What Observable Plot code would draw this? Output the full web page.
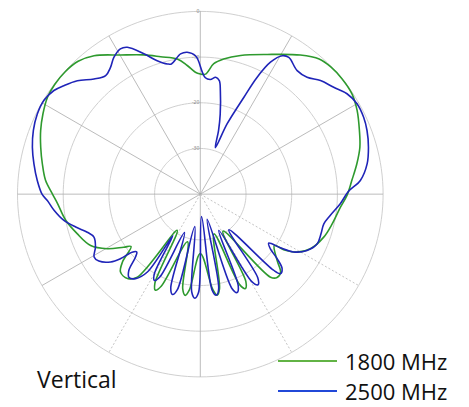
<!DOCTYPE html>
<html>
<head>
<meta charset="utf-8">
<script src="https://cdn.jsdelivr.net/npm/d3@7"></script>
<script src="https://cdn.jsdelivr.net/npm/@observablehq/plot@0.6"></script>
<style>
  body { margin: 0; background: #fff; }
  #wrap { position: relative; width: 469px; height: 407px; overflow: hidden; font-family: "Open Sans", sans-serif; }
  #chart { position: absolute; left: 0; top: 0; }
  .lab { position: absolute; font-size: 22px; line-height: 18px; color: #111; white-space: nowrap; }
  .key { position: absolute; height: 0; border-top: 2.5px solid; }
</style>
</head>
<body>
<div id="wrap">
  <div id="chart"></div>
  <div class="lab" id="title" style="left:37px; top:370px; font-size:23px;">Vertical</div>
  <div class="key" id="k0" style="left:278px; top:360px; width:59px;"></div>
  <div class="lab" id="l0" style="left:345px; top:352px;"></div>
  <div class="key" id="k1" style="left:278px; top:390px; width:59px;"></div>
  <div class="lab" id="l1" style="left:345px; top:382px;"></div>
</div>
<script>
// ---- data (angle in degrees clockwise from zenith, gain in dB) ----
const seriesNames = ["1800 MHz", "2500 MHz"];
const seriesColors = ["#2e9a2e", "#1f24b8"];
const legendColors = ["#62b345", "#2148d8"];
const chartTitle = "Vertical";

const angles1800 = [0,2.5,5.9,9.8,16.2,25.6,35.7,41.3,45.7,50.8,56.5,61.9,68.2,73.6,79,84.8,90.5,95.3,102.6,109.2,116.4,120.9,123.7,124.7,130.8,134.2,137.4,139.8,148.5,152.5,154.5,156.5,161,168.5,170.5,172.5,180,186.5,188.5,190.5,195,203,205,207,212.5,217.2,220.8,225.7,228.9,232.9,235.3,239.6,244.9,252.2,259,266.2,270.2,275.1,280.9,286.4,291.7,297,302.4,307,312.2,317.4,322.5,330.2,337.9,343.9,350.3,354.2,357.7,360];
const db1800 = [-13.7,-13.7,-11.3,-10,-8.4,-6.1,-2.5,-0.6,-0.1,0,-0.2,-1.1,-2.5,-3.6,-5.1,-6.7,-7.9,-9.2,-10.4,-11.4,-13.1,-15.3,-18.1,-20.3,-17.8,-15.5,-15.2,-16.2,-30.5,-18.4,-17.1,-18.4,-30.8,-18.9,-17.6,-18.9,-27,-18.9,-17.6,-18.9,-29.2,-18.1,-16.8,-18.1,-30.6,-17.2,-15.6,-15.6,-17.4,-21,-19.6,-16.4,-13.5,-11.7,-10,-8.7,-7.6,-6,-4.8,-3.6,-2.4,-1.35,-0.4,-0.1,-0.1,-0.5,-1.8,-4.9,-7.1,-8.7,-10,-11.7,-13.3,-13.7];

const angles2500 = [0,2.5,5,7.5,9.5,11,14,16,17.9,20.9,24.2,25.9,28,30.6,32.9,38.1,42.4,46.6,51.3,55.6,60.1,64.8,69.1,74.4,79.7,85.1,89,93.9,99.3,103.5,108.1,113,117.8,121.8,123.8,125.6,127.9,130,132.3,134.8,136.1,141.3,145.5,147.5,149.5,153,157.5,159.5,161.5,164.7,169,171,173,176.9,181,183,185,189.7,193.5,195.5,197.5,202.3,206,208,210,213.5,214.2,217.5,220.5,223.1,225.8,227.7,229.6,231,232.9,236.6,239.4,243.2,248,251.4,255.2,259.1,263.7,267.6,269.9,274.8,280.3,285.6,290.9,296.2,301,305.3,308.5,312.7,317.3,321.4,324.7,327.7,331.2,333.6,338.1,342.1,345.8,347.5,352,354.7,358,360];
const db2500 = [-12,-14.5,-14.8,-14.2,-14.8,-17,-22,-25.5,-29.3,-23.5,-16.8,-11.6,-7.3,-4.8,-4.35,-5.65,-5.35,-3.8,-2.6,-1.1,-0.4,-0.5,-0.95,-1.8,-2.9,-4.85,-7.6,-9.3,-11.2,-12.2,-12.2,-12.2,-13.6,-16,-18.9,-21.6,-20.6,-18.1,-15.8,-15.3,-16.9,-30,-17.8,-16.5,-17.8,-31.1,-18.3,-17,-18.3,-34.3,-18.9,-17.6,-18.9,-35.1,-18.5,-17.2,-18.5,-32.8,-18.5,-17.2,-18.5,-30.9,-19.9,-18.6,-19.9,-29.1,-19.4,-16.7,-16,-17.1,-20.2,-21.2,-20.4,-17.6,-15.4,-13.4,-13,-14.3,-14.9,-13.9,-11.8,-9.6,-7.8,-6.5,-5.4,-4.2,-3,-1.85,-0.9,-0.25,-0.1,-0.75,-1.85,-3.4,-5.7,-6.8,-6,-4.6,-3.7,-4.1,-6.9,-9.3,-10.6,-10.8,-9,-8.8,-9.7,-12];

// grid
const ringDb = [0, -10, -20, -30];
const ringLabels = ["0", "-10", "-20", "-30"];
const dbFloor = -40;
const spokeSolid = [0, 30, 60, 90, 180, 240, 270, 300, 330];
const spokeDashed = [120, 150, 210];

// ---- geometry helpers ----
const rad = a => a * Math.PI / 180;
const rOf = db => Math.max(0, db - dbFloor);
const polar = (a, db) => ({ x: rOf(db) * Math.sin(rad(a)), y: rOf(db) * Math.cos(rad(a)) });

const series = [
  { name: seriesNames[0], pts: angles1800.map((a, i) => polar(a, db1800[i])) },
  { name: seriesNames[1], pts: angles2500.map((a, i) => polar(a, db2500[i])) }
];

const circleAngles = d3.range(0, 361, 2);
const rings = ringDb.flatMap(v => circleAngles.map(a => ({ ring: v, ...polar(a, v) })));
const rMax = rOf(0);

const plot = Plot.plot({
  width: 469,
  height: 407,
  marginLeft: 17,
  marginRight: 86.4,
  marginTop: 10.9,
  marginBottom: 30.6,
  x: { domain: [-rMax, rMax], axis: null },
  y: { domain: [-rMax, rMax], axis: null },
  style: { background: "transparent" },
  marks: [
    Plot.line(rings, { x: "x", y: "y", z: "ring", stroke: "#c9c9c9", strokeWidth: 0.9 }),
    Plot.link(spokeSolid, {
      x1: 0, y1: 0,
      x2: a => rMax * Math.sin(rad(a)), y2: a => rMax * Math.cos(rad(a)),
      stroke: "#a9a9a9", strokeWidth: 0.8
    }),
    Plot.link(spokeDashed, {
      x1: 0, y1: 0,
      x2: a => rMax * Math.sin(rad(a)), y2: a => rMax * Math.cos(rad(a)),
      stroke: "#b5b5b5", strokeWidth: 0.8, strokeDasharray: "2,2"
    }),
    Plot.text(ringDb, {
      x: 0, y: d => rOf(d), text: (d, i) => ringLabels[i],
      dx: -1, textAnchor: "end", fontSize: 5, fill: "#888"
    }),
    Plot.line(series[0].pts, { x: "x", y: "y", stroke: seriesColors[0], strokeWidth: 1.6, curve: "catmull-rom" }),
    Plot.line(series[1].pts, { x: "x", y: "y", stroke: seriesColors[1], strokeWidth: 1.6, curve: "catmull-rom" })
  ]
});
document.getElementById("chart").appendChild(plot);

document.getElementById("title").textContent = chartTitle;
document.getElementById("l0").textContent = seriesNames[0];
document.getElementById("l1").textContent = seriesNames[1];
document.getElementById("k0").style.borderColor = legendColors[0];
document.getElementById("k1").style.borderColor = legendColors[1];
</script>
</body>
</html>
